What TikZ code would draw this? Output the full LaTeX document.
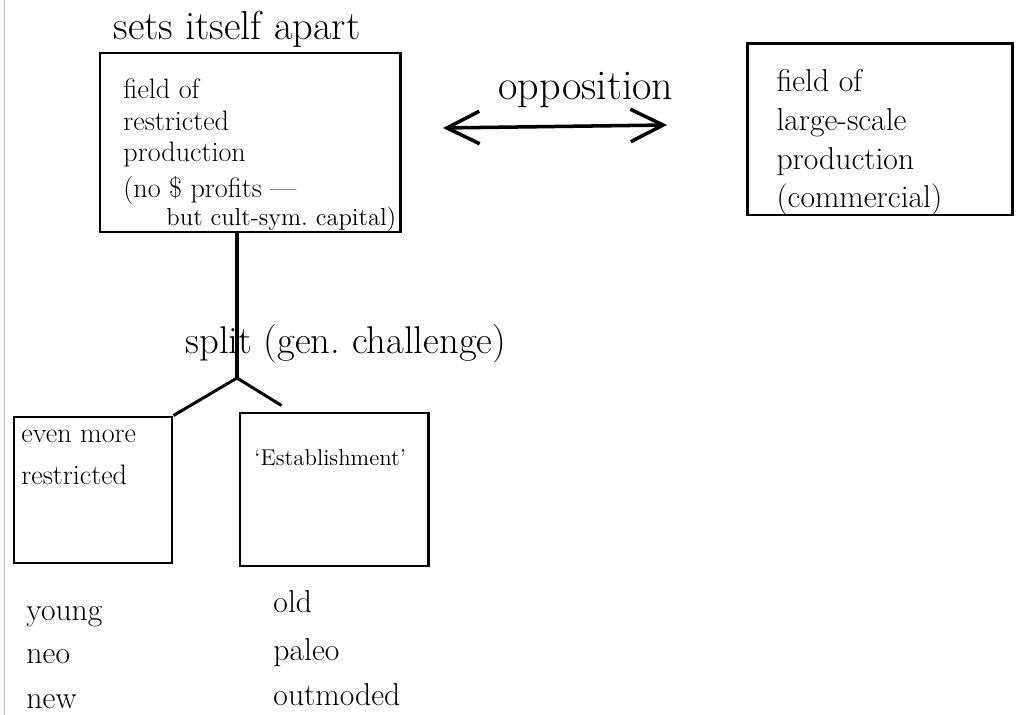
\documentclass[tikz,border=0pt]{standalone}
\usepackage{tikz}
\usetikzlibrary{positioning, arrows.meta}
\tikzset{
	sketchbox/.style={draw, line width=1.7pt, inner sep=0pt}
}
\tikzset{
	handtext/.style={font=\fontsize{22}{26}\selectfont, inner sep=0pt, anchor=base west}
}
\tikzset{
	boxtext/.style={font=\fontsize{16}{18}\selectfont, align=left, inner sep=0pt, anchor=north west}
}
\tikzset{
	listtext/.style={font=\fontsize{18}{20}\selectfont, inner sep=0pt, anchor=base west}
}
\tikzset{
	opparrow/.style={line width=2pt, >={Straight Barb[length=6.5mm,width=6.5mm]}, <->}
}

\begin{document}
\begin{tikzpicture}[x=1cm, y=-1cm, line width=1.7pt]
      \useasboundingbox (0,0) rectangle (20.36,14.3);

      % edge of the scanned page
      \draw[gray!55, line width=0.5pt] (0.08,0) -- (0.08,14.3);

      % field of restricted production
      \node[handtext, font=\fontsize{23}{26}\selectfont] (apart) at (2.24,0.8) {sets itself apart};
      \node[sketchbox, minimum width=6cm, minimum height=3.58cm] (restricted) at (5.0,2.85) {};
      \node[boxtext] (restrictedtxt) at (2.44,1.55) {field of\\restricted\\production\\[2pt](no \$ profits ---};
      \node[boxtext, font=\fontsize{14}{16}\selectfont, anchor=base west] (capital) at (3.3,4.52) {but cult-sym.\ capital)};

      % field of large-scale production
      \node[sketchbox, minimum width=5.3cm, minimum height=3.42cm] (largescale) at (17.59,2.59) {};
      \node[boxtext, font=\fontsize{18}{22}\selectfont] (largescaletxt) at (15.5,1.36) {field of\\large-scale\\production\\(commercial)};

      % opposition between the two fields
      \node[handtext, font=\fontsize{24}{28}\selectfont] (oppo) at (9.94,2.0) {opposition};
      \coordinate (oppleft) at (8.86,2.56);
      \coordinate (oppright) at (13.34,2.5);
      \draw[opparrow] (oppleft) -- (oppright);

      % the split
      \coordinate (fork) at (4.74,7.56);
      \draw[line width=2pt] (restricted.south -| fork) -- (fork);
      \node[handtext] (split) at (3.68,7.08) {split (gen.\ challenge)};

      \node[sketchbox, minimum width=3.16cm, minimum height=2.92cm] (more) at (1.86,9.8) {};
      \node[boxtext, font=\fontsize{16}{24}\selectfont] (moretxt) at (0.4,8.57) {even more\\restricted};
      \node[sketchbox, minimum width=3.76cm, minimum height=3.06cm] (establ) at (6.68,9.79) {};
      \node[boxtext, font=\fontsize{13}{16}\selectfont, anchor=base west] (establtxt) at (5.06,9.3) {`Establishment'};

      \draw (fork) -- (more.north east);
      \draw (fork) -- ([shift={(0.86,-0.12)}]establ.north west);

      % young vs. old
      \foreach \w/\yy [count=\k] in {young/12.4, neo/13.26, new/14.16} {
        \node[listtext] (newer\k) at (0.5,\yy) {\w};
      }
      \foreach \w/\yy [count=\k] in {old/12.24, paleo/13.2, outmoded/14.1} {
        \node[listtext] (older\k) at (5.44,\yy) {\w};
      }
    \end{tikzpicture}
\end{document}
